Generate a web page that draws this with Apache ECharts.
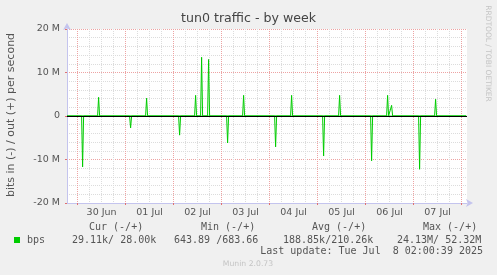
<!DOCTYPE html>
<html><head><meta charset="utf-8">
<script src="https://cdn.jsdelivr.net/npm/echarts@6/dist/echarts.min.js"></script>
<style>html,body{margin:0;padding:0;background:#f0f0f0;}#c{width:497px;height:275px;}</style>
</head><body><div id="c"></div>
<script>
// hours since 30 Jun 2025 00:00
const dayLabels = ['30 Jun','01 Jul','02 Jul','03 Jul','04 Jul','05 Jul','06 Jul','07 Jul'];
const labelHours = [12,36,60,84,108,132,156,180];
const dayHours = [0,24,48,72,96,120,144,168,192];
const minorHours = [6,12,18,30,36,42,54,60,66,78,84,90,102,108,114,126,132,138,150,156,162,174,180,186];

// out (+) in bits per second
const outData = [
  [-5.3,28000],[10,28000],[10.5,4300000],[11,28000],
  [34,28000],[34.5,4100000],[35,28000],
  [58.5,28000],[59,4750000],[59.5,28000],
  [61.5,28000],[62,13500000],[62.5,28000],
  [65,28000],[65.5,13000000],[66,28000],
  [82.5,28000],[83,4750000],[83.5,28000],
  [106.5,28000],[107,4750000],[107.5,28000],
  [130.5,28000],[131,4750000],[131.5,28000],
  [154.5,28000],[155,4750000],[155.5,28000],
  [156.5,28000],[157,2450000],[157.5,28000],
  [178.5,28000],[179,3850000],[179.5,28000],
  [194.3,28000]
];
// in (-) in bits per second
const inData = [
  [-5.3,-29000],[2,-29000],[2.5,-11700000],[3,-29000],
  [26,-29000],[26.5,-2750000],[27,-29000],
  [50.5,-29000],[51,-4400000],[51.5,-29000],
  [61.5,-29000],[62,-300000],[62.5,-29000],
  [65,-29000],[65.5,-300000],[66,-29000],
  [74.5,-29000],[75,-6200000],[75.5,-29000],
  [98.5,-29000],[99,-7100000],[99.5,-29000],
  [122.5,-29000],[123,-9200000],[123.5,-29000],
  [146.5,-29000],[147,-10300000],[147.5,-29000],
  [170.5,-29000],[171,-12250000],[171.5,-29000],
  [194.3,-29000]
];

const X_MIN = -5.3, X_MAX = 194.7;
const GREEN = '#00cc00';
const AXIS = '#c4c4ee';
const MGRID = '#eda3a3';
const GRID = '#dcdcdc';
const FONT = 'DejaVu Sans';

const chart = echarts.init(document.getElementById('c'), null, {renderer:'canvas'});
chart.setOption({
  animation:false,
  backgroundColor:'#f0f0f0',
  grid:{left:67,top:29,width:400,height:174,show:true,backgroundColor:'#ffffff',borderWidth:0},
  xAxis:[
    {type:'value',position:'bottom',min:X_MIN,max:X_MAX,
     axisLine:{show:false,onZero:false},
     axisTick:{show:false,customValues:minorHours},
     axisLabel:{show:false},
     splitLine:{show:true,lineStyle:{color:GRID,type:[1,1],width:1}}},
    {type:'value',position:'bottom',min:X_MIN,max:X_MAX,
     axisLine:{show:true,onZero:false,lineStyle:{color:AXIS,width:1},symbol:['none','arrow'],symbolSize:[6,7],symbolOffset:[0,6]},
     axisTick:{show:true,inside:false,length:2,customValues:dayHours,lineStyle:{color:'#e07070'}},
     axisLabel:{show:false},
     splitLine:{show:true,lineStyle:{color:MGRID,type:[1,1],width:1}}},
    {type:'value',position:'bottom',min:X_MIN,max:X_MAX,
     axisLine:{show:false,onZero:false},
     axisTick:{show:false},
     axisLabel:{show:true,customValues:labelHours,margin:5,fontFamily:FONT,fontSize:9.5,color:'#555',
       formatter:function(v){const i=labelHours.indexOf(v);return i>=0?dayLabels[i]:'';}},
     splitLine:{show:false}}
  ],
  yAxis:{type:'value',min:-20e6,max:20e6,interval:10e6,
    axisLine:{show:true,onZero:false,lineStyle:{color:AXIS,width:1},symbol:['none','arrow'],symbolSize:[6,7],symbolOffset:[0,6]},
    axisTick:{show:true,length:2,lineStyle:{color:'#e07070'}},
    axisLabel:{margin:7,fontFamily:FONT,fontSize:9.5,color:'#555',
      formatter:function(v){return v===0?'0':(v/1e6)+' M';}},
    splitLine:{show:true,lineStyle:{color:MGRID,type:[1,1],width:1}},
    minorTick:{show:false,splitNumber:5},
    minorSplitLine:{show:true,lineStyle:{color:GRID,type:[1,1],width:1}}
  },
  series:[
    {type:'line',xAxisIndex:0,data:inData,showSymbol:false,symbol:'none',
     lineStyle:{color:GREEN,width:1},z:3},
    {type:'line',xAxisIndex:0,data:outData,showSymbol:false,symbol:'none',
     lineStyle:{color:GREEN,width:1},z:3,
     markLine:{silent:true,symbol:'none',label:{show:false},
       lineStyle:{color:'#000',width:1,type:'solid'},
       emphasis:{disabled:true},
       data:[{yAxis:0}]}}
  ],
  graphic:[
    {type:'text',left:'center',top:12,style:{text:'tun0 traffic - by week',font:'12.6px "DejaVu Sans"',fill:'#444'}},
    {type:'text',x:11,y:115,rotation:Math.PI/2,style:{text:'bits in (-) / out (+) per second',font:'11px "DejaVu Sans"',fill:'#555',align:'center',verticalAlign:'middle'}},
    {type:'text',x:487.5,y:53.5,rotation:-Math.PI/2,style:{text:'RRDTOOL / TOBI OETIKER',font:'7.5px "DejaVu Sans"',fill:'#c4c4c4',align:'center',verticalAlign:'middle'}},
    {type:'rect',shape:{x:14,y:237,width:6,height:6},style:{fill:GREEN}},
    {type:'text',x:27,y:240,style:{text:'bps',font:'10px "DejaVu Sans Mono"',fill:'#555',verticalAlign:'middle'}},
    {type:'text',x:89,y:227.5,style:{text:'Cur (-/+)',font:'10px "DejaVu Sans Mono"',fill:'#555',verticalAlign:'middle'}},
    {type:'text',x:201,y:227.5,style:{text:'Min (-/+)',font:'10px "DejaVu Sans Mono"',fill:'#555',verticalAlign:'middle'}},
    {type:'text',x:312,y:227.5,style:{text:'Avg (-/+)',font:'10px "DejaVu Sans Mono"',fill:'#555',verticalAlign:'middle'}},
    {type:'text',x:423,y:227.5,style:{text:'Max (-/+)',font:'10px "DejaVu Sans Mono"',fill:'#555',verticalAlign:'middle'}},
    {type:'text',x:72,y:240,style:{text:'29.11k/ 28.00k',font:'10px "DejaVu Sans Mono"',fill:'#555',verticalAlign:'middle'}},
    {type:'text',x:174,y:240,style:{text:'643.89 /683.66',font:'10px "DejaVu Sans Mono"',fill:'#555',verticalAlign:'middle'}},
    {type:'text',x:283,y:240,style:{text:'188.85k/210.26k',font:'10px "DejaVu Sans Mono"',fill:'#555',verticalAlign:'middle'}},
    {type:'text',x:397,y:240,style:{text:'24.13M/ 52.32M',font:'10px "DejaVu Sans Mono"',fill:'#555',verticalAlign:'middle'}},
    {type:'text',x:483,y:251.5,style:{text:'Last update: Tue Jul  8 02:00:39 2025',font:'10px "DejaVu Sans Mono"',fill:'#555',align:'right',verticalAlign:'middle'}},
    {type:'text',x:248,y:264,style:{text:'Munin 2.0.73',font:'7.7px "DejaVu Sans"',fill:'#c4c4c4',align:'center',verticalAlign:'middle'}}
  ]
});
</script></body></html>
